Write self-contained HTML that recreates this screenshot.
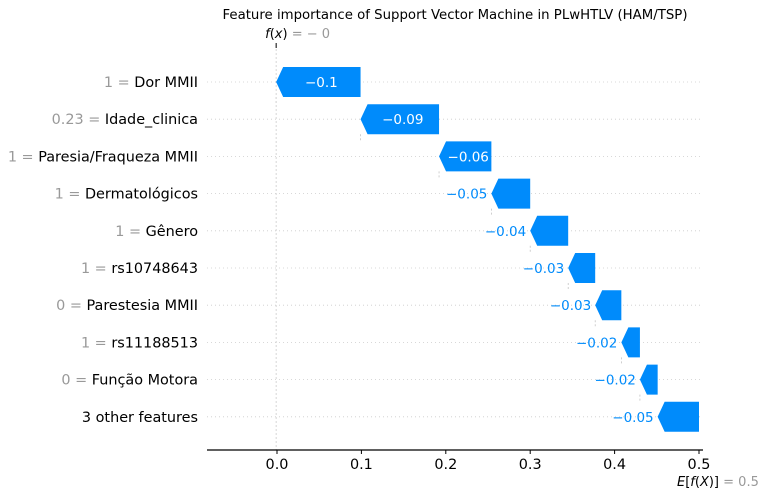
<!DOCTYPE html>
<html><head><meta charset="utf-8"><style>
body{margin:0;background:#fff;}
svg text{font-family:"DejaVu Sans","Liberation Sans",sans-serif;}
</style></head><body>
<svg id="chart" width="769" height="498" xmlns="http://www.w3.org/2000/svg">
<text x="455" y="19" text-anchor="middle" font-size="13.3" fill="#000">Feature importance of Support Vector Machine in PLwHTLV (HAM/TSP)</text>
<g id="grid"></g><g id="bars"></g><g id="labels"></g><g id="axis"></g>
</svg>
<script>
const features = ["Dor MMII","Idade_clinica","Paresia/Fraqueza MMII","Dermatológicos","Gênero","rs10748643","Parestesia MMII","rs11188513","Função Motora","3 other features"];
const featureValues = ["1","0.23","1","1","1","1","0","1","0",""];
const shapValues = [-0.1,-0.093,-0.062,-0.046,-0.045,-0.032,-0.031,-0.022,-0.021,-0.049];
const shapLabels = ["−0.1","−0.09","−0.06","−0.05","−0.04","−0.03","−0.03","−0.02","−0.02","−0.05"];
const baseValue = 0.5;
const ticks = [0.0,0.1,0.2,0.3,0.4,0.5];
const tickLabels = ["0.0","0.1","0.2","0.3","0.4","0.5"];

const NS="http://www.w3.org/2000/svg";
const x = v => 277 + v*844;
const yRow = i => 82 + i*37.2;
function mk(tag, attrs, parent, txt){const e=document.createElementNS(NS,tag);for(const k in attrs)e.setAttribute(k,attrs[k]);if(txt!==undefined)e.textContent=txt;document.getElementById(parent).appendChild(e);return e;}

const n=features.length;
const right=new Array(n), left=new Array(n);
let cur=baseValue;
for(let i=n-1;i>=0;i--){right[i]=cur;cur=cur+shapValues[i];left[i]=cur;}
const fx=cur;

for(let i=0;i<n;i++){
  const yc=yRow(i);
  const g=mk('line',{x1:207,x2:703,y1:yc,y2:yc,stroke:'#ccc','stroke-width':0.8,'stroke-dasharray':'1,3'},'grid');
  
  
  const xl=x(left[i]), xr=x(right[i]), h=30, t=yc-h/2, hw=Math.min(7,xr-xl);
  const p=mk('path',{d:`M${xr},${t} L${xl+hw},${t} L${xl},${yc} L${xl+hw},${t+h} L${xr},${t+h} Z`,fill:'#008bfb'},'bars');
  
  
  if(i<n-1){const c=mk('line',{x1:xl,x2:xl,y1:t+h,y2:yRow(i+1)-15,stroke:'#bbb','stroke-width':0.7,'stroke-dasharray':'2,2'},'grid');
  
  }
  const w=xr-xl;
  let tl;
  if(w>45){tl=mk('text',{x:(xl+xr)/2+3,y:yc+5,'text-anchor':'middle','font-size':13.5,fill:'#fff'},'labels',shapLabels[i]);}
  else{tl=mk('text',{x:xl-4,y:yc+5,'text-anchor':'end','font-size':13.5,fill:'#008bfb'},'labels',shapLabels[i]);}
  
  
  const fl=mk('text',{x:198,y:yc+5,'text-anchor':'end','font-size':14.4,fill:'#000'},'labels');
  
  
  if(featureValues[i]!==''){const s=document.createElementNS(NS,'tspan');s.setAttribute('fill','#999');s.textContent=featureValues[i]+' = ';fl.appendChild(s);}
  const s2=document.createElementNS(NS,'tspan');s2.textContent=features[i];fl.appendChild(s2);
}
const vl=mk('line',{x1:x(fx),x2:x(fx),y1:45,y2:450,stroke:'#ccc','stroke-width':0.8,'stroke-dasharray':'2,2'},'grid');


const tk=mk('line',{x1:x(fx),x2:x(fx),y1:43,y2:48,stroke:'#000','stroke-width':1},'axis');


const fxl=mk('text',{x:x(fx)-11,y:38,'font-size':13,fill:'#000'},'axis');


fxl.innerHTML='<tspan font-style="italic">f</tspan>(<tspan font-style="italic">x</tspan>)<tspan fill="#999"> = − 0</tspan>';
const ax=mk('line',{x1:207,x2:703,y1:450,y2:450,stroke:'#000','stroke-width':1.2},'axis');


ticks.forEach((t,i)=>{
  const l=mk('line',{x1:x(t),x2:x(t),y1:450,y2:454,stroke:'#000'},'axis');
  
  
  const tt=mk('text',{x:x(t),y:469,'text-anchor':'middle','font-size':14.4,fill:'#000'},'axis',tickLabels[i]);
  
  
});
const el=mk('text',{x:677,y:486,'font-size':13,fill:'#000'},'axis');


el.innerHTML='<tspan font-style="italic">E</tspan>[<tspan font-style="italic">f</tspan>(<tspan font-style="italic">X</tspan>)]<tspan fill="#999"> = 0.5</tspan>';
</script>
</body></html>
